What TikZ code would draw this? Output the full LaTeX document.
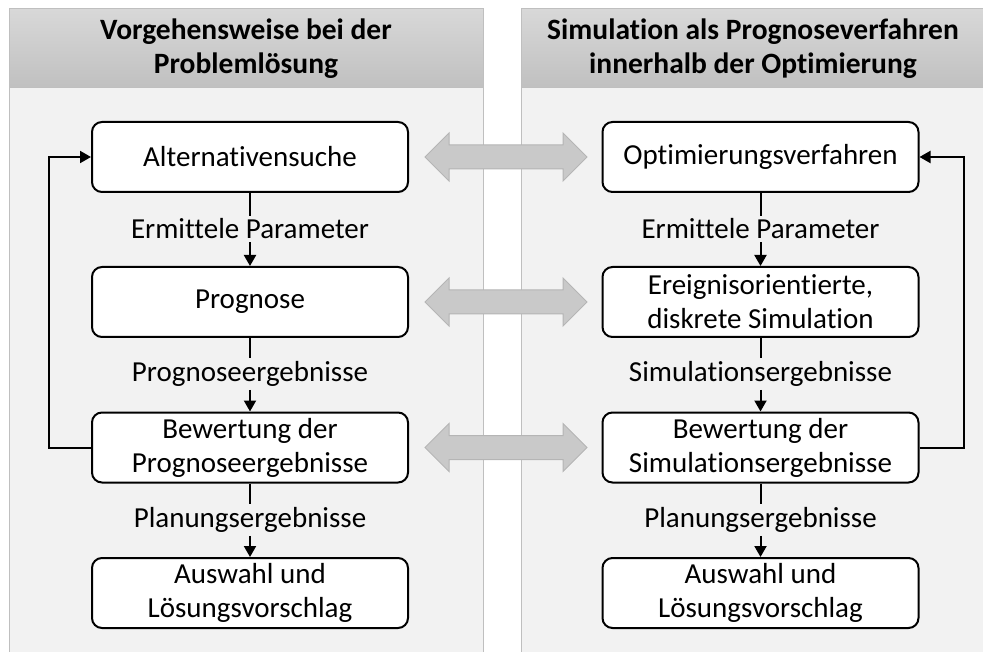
\documentclass[tikz,border=0pt]{standalone}
\usepackage{fontspec}
\setmainfont{Carlito}[Ligatures=NoCommon]
\usetikzlibrary{arrows.meta,calc}

\definecolor{panelfill}{HTML}{F2F2F2}
\definecolor{panelline}{HTML}{BFBFBF}
\definecolor{headtop}{HTML}{D8D8D8}
\definecolor{headbot}{HTML}{C0C0C0}
\definecolor{linkfill}{HTML}{C9C9C9}
\definecolor{linkline}{HTML}{B5B5B5}

\begin{document}
\begin{tikzpicture}[x=1pt,y=-1pt,
  font=\fontsize{29}{34}\selectfont,
  stepbox/.style={draw=black, line width=2pt, rounded corners=10pt, fill=white,
    minimum width=316pt, minimum height=70pt, align=center, inner sep=2pt},
  flowlabel/.style={inner sep=3pt, align=center},
  flow/.style={line width=2pt, -{Triangle[length=11pt,width=12pt]}},
  plain/.style={line width=2pt},
  headtext/.style={font=\fontsize{29.5}{34}\bfseries\selectfont, align=center},
  panel/.style={fill=panelfill, draw=panelline, line width=1pt},
  header/.style={top color=headtop, bottom color=headbot, draw=panelline, line width=1pt},
  link/.style={fill=linkfill, draw=linkline, line width=1pt, line join=miter}
]
\path[use as bounding box] (0,0) rectangle (983,652);
\clip (0,0) rectangle (983,652);

% two panels with shaded headers
\draw[panel] (9,88) rectangle (483,670);
\draw[header] (9,9) rectangle (483,88);
\draw[panel] (521,88) rectangle (995,670);
\draw[header] (521,9) rectangle (995,88);

\node[headtext] (HL) at (246,48.5) {Vorgehensweise bei der\\Problemlösung};
\node[headtext] (HR) at (753,48.5) {Simulation als Prognoseverfahren\\innerhalb der Optimierung};

% left column: general procedure
\node[stepbox] (L1) at (250,157) {Alternativensuche};
\node[stepbox] (L2) at (250,302) {Prognose};
\node[stepbox] (L3) at (250,447.5) {Bewertung der\\Prognoseergebnisse};
\node[stepbox] (L4) at (250,593) {Auswahl und\\Lösungsvorschlag};

\node[flowlabel] (LA) at (250,229) {Ermittele Parameter};
\node[flowlabel] (LB) at (250,374) {Prognoseergebnisse};
\node[flowlabel] (LC) at (250,520) {Planungsergebnisse};

% right column: simulation-based optimisation
\node[stepbox] (R1) at (760.5,157) {Optimierungsverfahren};
\node[stepbox] (R2) at (760.5,302) {Ereignisorientierte,\\diskrete Simulation};
\node[stepbox] (R3) at (760.5,447.5) {Bewertung der\\Simulationsergebnisse};
\node[stepbox] (R4) at (760.5,593) {Auswahl und\\Lösungsvorschlag};

\node[flowlabel] (RA) at (760.5,229) {Ermittele Parameter};
\node[flowlabel] (RB) at (760.5,374) {Simulationsergebnisse};
\node[flowlabel] (RC) at (760.5,520) {Planungsergebnisse};

% vertical flow
\foreach \s/\l/\t in {L1/LA/L2, L2/LB/L3, L3/LC/L4, R1/RA/R2, R2/RB/R3, R3/RC/R4}{
  \draw[plain] (\s) -- (\l);
  \draw[flow] (\l) -- (\t);
}

% feedback loops
\draw[flow] (L3.west) -- ++(-42,0) |- (L1.west);
\draw[flow] (R3.east) -- ++(44,0) |- (R1.east);

% correspondence arrows between the columns
\foreach \a in {1,2,3}{
  \draw[link] ($(L\a.east)+(16,0)$) -- ++(24,-24) -- ++(0,12) -- ++(114,0)
    -- ++(0,-12) -- ++(24,24) -- ++(-24,24) -- ++(0,-12) -- ++(-114,0)
    -- ++(0,12) -- cycle;
}
\end{tikzpicture}
\end{document}
